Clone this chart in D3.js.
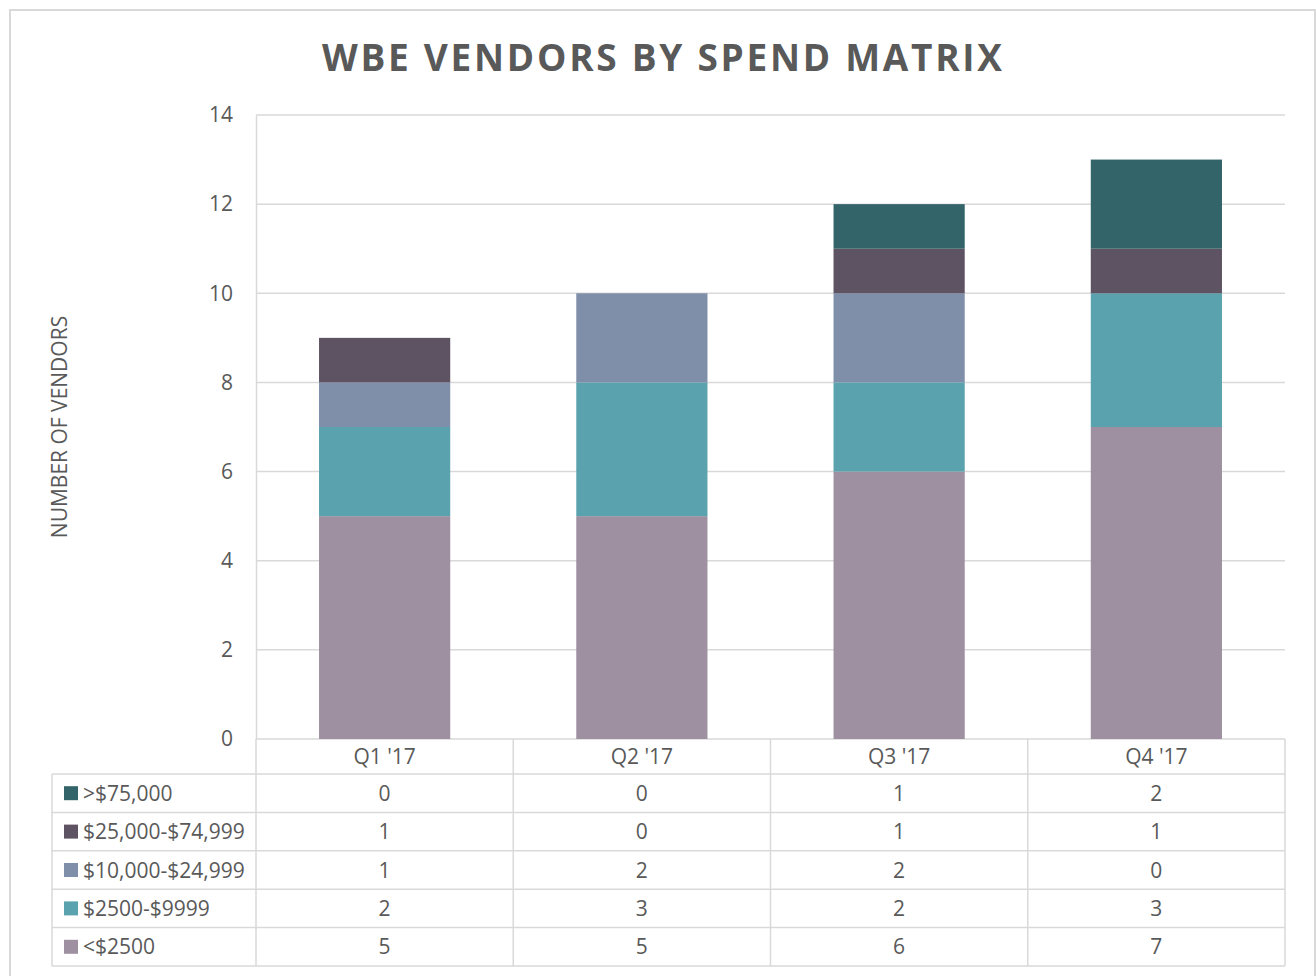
<!DOCTYPE html>
<html>
<head>
<meta charset="utf-8">
<script src="https://cdn.jsdelivr.net/npm/d3@7"></script>
<style>
  html, body { margin: 0; padding: 0; background: #fff; }
  svg { display: block; }
  text { font-family: "Open Sans", "Liberation Sans", sans-serif; fill: #595959; }
</style>
</head>
<body>
<svg id="chart" width="1316" height="976"></svg>
<script>
const categories = ["Q1 '17", "Q2 '17", "Q3 '17", "Q4 '17"];
const seriesNames = ["<$2500", "$2500-$9999", "$10,000-$24,999", "$25,000-$74,999", ">$75,000"];
const seriesColors = ["#9e90a1", "#5aa3ae", "#7f8fa9", "#5e5363", "#336469"];
const under2500 = [5, 5, 6, 7];
const s2500to9999 = [2, 3, 2, 3];
const s10000to24999 = [1, 2, 2, 0];
const s25000to74999 = [1, 0, 1, 1];
const over75000 = [0, 0, 1, 2];
const yTicks = [0, 2, 4, 6, 8, 10, 12, 14];
const chartTitle = "WBE VENDORS BY SPEND MATRIX";
const yTitle = "NUMBER OF VENDORS";

(function () {
const seriesValues = [under2500, s2500to9999, s10000to24999, s25000to74999, over75000];
const rows = categories.map((c, i) => {
  const r = { cat: c };
  seriesNames.forEach((s, j) => r[s] = seriesValues[j][i]);
  return r;
});

const svg = d3.select("#chart");
const pLeft = 256, pRight = 1285, pTop = 115, pBottom = 739;
const grid = "#d9d9d9";
const fs = "21px";

svg.append("rect").attr("x", 10).attr("y", 10).attr("width", 1305).attr("height", 990)
  .attr("fill", "#fff").attr("stroke", grid).attr("stroke-width", 2);

const x = d3.scaleBand().domain(categories).range([pLeft, pRight]).paddingInner(0.49).paddingOuter(0.245);
const xCell = d3.scaleBand().domain(categories).range([pLeft, pRight]);
const y = d3.scaleLinear().domain([0, 14]).range([pBottom, pTop]);

svg.append("g").selectAll("line").data(yTicks).join("line")
  .attr("x1", pLeft).attr("x2", pRight)
  .attr("y1", d => y(d)).attr("y2", d => y(d))
  .attr("stroke", grid).attr("stroke-width", 1.5);

const yAxis = svg.append("g").attr("transform", `translate(${pLeft},0)`)
  .call(d3.axisLeft(y).tickValues(yTicks).tickSize(0).tickPadding(23));
yAxis.select(".domain").attr("stroke", grid).attr("stroke-width", 1.5);
yAxis.selectAll("text").style("font-size", fs).attr("fill", "#595959")
  .style("font-family", "'Open Sans', sans-serif");

const stack = d3.stack().keys(seriesNames)(rows);
svg.append("g").selectAll("g").data(stack).join("g")
  .attr("fill", (d, i) => seriesColors[i])
  .selectAll("rect").data(d => d).join("rect")
  .attr("x", d => x(d.data.cat))
  .attr("width", x.bandwidth())
  .attr("y", d => y(d[1]))
  .attr("height", d => y(d[0]) - y(d[1]));

svg.append("text").attr("x", 662).attr("y", 71).attr("text-anchor", "middle")
  .attr("textLength", 680).attr("lengthAdjust", "spacing")
  .style("font-size", "37px").style("font-weight", "bold").attr("fill", "#595959")
  .text(chartTitle);

svg.append("text").attr("transform", "translate(67,427) rotate(-90)")
  .attr("text-anchor", "middle").style("font-size", fs).attr("fill", "#595959")
  .text(yTitle);

const headerBottom = 774;
const rowH = (966 - headerBottom) / 5;
const tableLeft = 52;
const t = svg.append("g");
const vx = categories.map(c => xCell(c)).concat([pRight]);
t.selectAll("line.v").data(vx).join("line").attr("class", "v")
  .attr("x1", d => d).attr("x2", d => d).attr("y1", pBottom).attr("y2", 966)
  .attr("stroke", grid).attr("stroke-width", 1.5);
t.append("line").attr("x1", tableLeft).attr("x2", tableLeft).attr("y1", headerBottom).attr("y2", 966)
  .attr("stroke", grid).attr("stroke-width", 1.5);
const hy = d3.range(6).map(i => headerBottom + i * rowH);
t.selectAll("line.h").data(hy).join("line").attr("class", "h")
  .attr("x1", tableLeft).attr("x2", pRight).attr("y1", d => d).attr("y2", d => d)
  .attr("stroke", grid).attr("stroke-width", 1.5);
t.selectAll("text.hd").data(categories).join("text").attr("class", "hd")
  .attr("x", d => xCell(d) + xCell.bandwidth() / 2).attr("y", (pBottom + headerBottom) / 2)
  .attr("dy", "0.36em").attr("text-anchor", "middle").style("font-size", fs)
  .text(d => d);
const order = seriesNames.map((s, i) => i).reverse();
order.forEach((si, r) => {
  const cy = headerBottom + r * rowH + rowH / 2;
  t.append("rect").attr("x", 64).attr("y", cy - 7).attr("width", 14).attr("height", 14)
    .attr("fill", seriesColors[si]);
  t.append("text").attr("x", 83).attr("y", cy).attr("dy", "0.36em").style("font-size", fs)
    .text(seriesNames[si]);
  categories.forEach((c, ci) => {
    t.append("text").attr("x", xCell(c) + xCell.bandwidth() / 2).attr("y", cy).attr("dy", "0.36em")
      .attr("text-anchor", "middle").style("font-size", fs).text(seriesValues[si][ci]);
  });
});
})();
</script>
</body>
</html>
